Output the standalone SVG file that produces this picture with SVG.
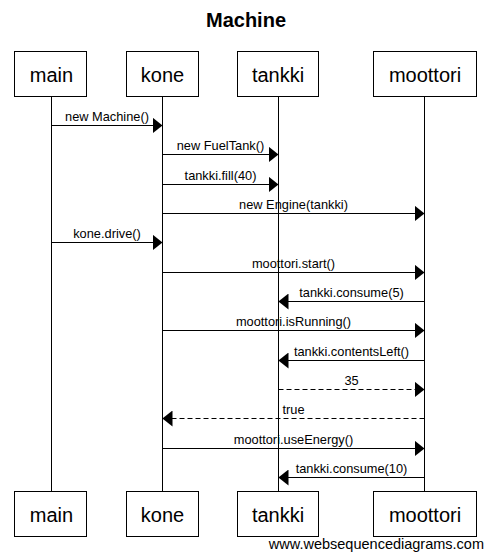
<svg xmlns="http://www.w3.org/2000/svg" width="490" height="560" viewBox="0 0 490 560">
<style>
.box{fill:#fff;stroke:#000;stroke-width:1}
.pl{font-family:"Liberation Sans",Arial,sans-serif;font-size:20px;text-anchor:middle;fill:#000}
.life{stroke:#000;stroke-width:1}
.msg{stroke:#000;stroke-width:1;fill:none;marker-end:url(#ah)}
.dash{stroke-dasharray:5,3}
.lbl{font-family:"Liberation Sans",Arial,sans-serif;font-size:12.8px;text-anchor:middle;fill:#000}
</style>
<defs>
<marker id="ah" markerUnits="userSpaceOnUse" markerWidth="10" markerHeight="16" refX="10" refY="8" orient="auto" viewBox="0 0 10 16">
<path d="M0,0 L10,8 L0,16 z" fill="#000" stroke="none"/>
</marker>
</defs>
<rect width="490" height="560" fill="#fff"/>
<text x="246" y="27" font-family="Liberation Sans,Arial,sans-serif" font-size="20" font-weight="bold" text-anchor="middle">Machine</text>
<g id="lifelines">
<line class="life" x1="51.5" y1="96.5" x2="51.5" y2="491.5"/>
<line class="life" x1="162.5" y1="96.5" x2="162.5" y2="491.5"/>
<line class="life" x1="278.5" y1="96.5" x2="278.5" y2="491.5"/>
<line class="life" x1="424.5" y1="96.5" x2="424.5" y2="491.5"/>
</g>
<g id="main">
<rect class="box" x="14.5" y="51.5" width="72" height="45"/>
<text class="pl" x="51.5" y="82">main</text>
<rect class="box" x="14.5" y="491.5" width="72" height="45"/>
<text class="pl" x="51.5" y="522">main</text>
</g>
<g id="kone">
<rect class="box" x="126.5" y="51.5" width="72" height="45"/>
<text class="pl" x="162.5" y="82">kone</text>
<rect class="box" x="126.5" y="491.5" width="72" height="45"/>
<text class="pl" x="162.5" y="522">kone</text>
</g>
<g id="tankki">
<rect class="box" x="237.5" y="51.5" width="81" height="45"/>
<text class="pl" x="278" y="82">tankki</text>
<rect class="box" x="237.5" y="491.5" width="81" height="45"/>
<text class="pl" x="278" y="522">tankki</text>
</g>
<g id="moottori">
<rect class="box" x="373.5" y="51.5" width="103" height="45"/>
<text class="pl" x="425" y="82">moottori</text>
<rect class="box" x="373.5" y="491.5" width="103" height="45"/>
<text class="pl" x="425" y="522">moottori</text>
</g>
<g id="connectors">
<line class="msg" x1="51.5" y1="125.5" x2="162.5" y2="125.5"/>
<text class="lbl" x="107" y="121">new Machine()</text>
<line class="msg" x1="162.5" y1="154.5" x2="278.5" y2="154.5"/>
<text class="lbl" x="220.5" y="150">new FuelTank()</text>
<line class="msg" x1="162.5" y1="184.5" x2="278.5" y2="184.5"/>
<text class="lbl" x="220.5" y="180">tankki.fill(40)</text>
<line class="msg" x1="162.5" y1="213.5" x2="424.5" y2="213.5"/>
<text class="lbl" x="293.5" y="209">new Engine(tankki)</text>
<line class="msg" x1="51.5" y1="242.5" x2="162.5" y2="242.5"/>
<text class="lbl" x="107" y="238">kone.drive()</text>
<line class="msg" x1="162.5" y1="272.5" x2="424.5" y2="272.5"/>
<text class="lbl" x="293.5" y="268">moottori.start()</text>
<line class="msg" x1="424.5" y1="301.5" x2="278.5" y2="301.5"/>
<text class="lbl" x="351.5" y="297">tankki.consume(5)</text>
<line class="msg" x1="162.5" y1="330.5" x2="424.5" y2="330.5"/>
<text class="lbl" x="293.5" y="326">moottori.isRunning()</text>
<line class="msg" x1="424.5" y1="360.5" x2="278.5" y2="360.5"/>
<text class="lbl" x="351.5" y="356">tankki.contentsLeft()</text>
<line class="msg dash" x1="278.5" y1="389.5" x2="424.5" y2="389.5"/>
<text class="lbl" x="351.5" y="385">35</text>
<line class="msg dash" x1="424.5" y1="418.5" x2="162.5" y2="418.5"/>
<text class="lbl" x="293.5" y="414">true</text>
<line class="msg" x1="162.5" y1="448.5" x2="424.5" y2="448.5"/>
<text class="lbl" x="293.5" y="444">moottori.useEnergy()</text>
<line class="msg" x1="424.5" y1="477.5" x2="278.5" y2="477.5"/>
<text class="lbl" x="351.5" y="473">tankki.consume(10)</text>
</g>
<text x="484" y="549" font-family="Liberation Sans,Arial,sans-serif" font-size="14.5" text-anchor="end">www.websequencediagrams.com</text>
</svg>
